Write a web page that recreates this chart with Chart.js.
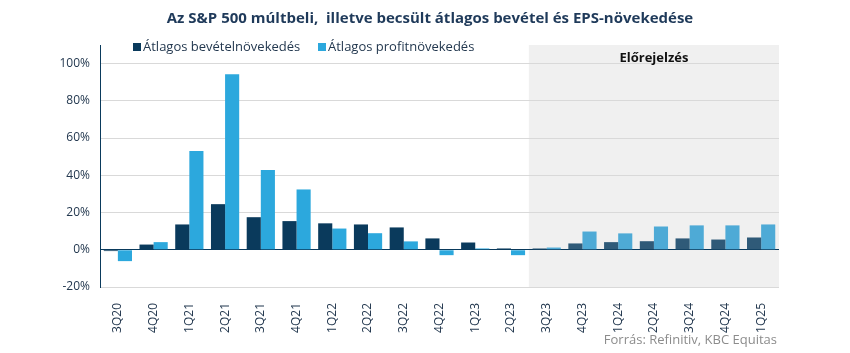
<!DOCTYPE html>
<html>
<head>
<meta charset="utf-8">
<script src="https://cdn.jsdelivr.net/npm/chart.js@4.4.1/dist/chart.umd.min.js"></script>
<style>
  html, body { margin:0; padding:0; background:#fff; }
  #wrap { width:850px; height:353px; position:relative; }
</style>
</head>
<body>
<div id="wrap"><canvas id="chart" width="850" height="353"></canvas></div>
<script>
/* ---------- Data ---------- */
const quarters = ['3Q20','4Q20','1Q21','2Q21','3Q21','4Q21','1Q22','2Q22','3Q22','4Q22',
                  '1Q23','2Q23','3Q23','4Q23','1Q24','2Q24','3Q24','4Q24','1Q25'];
const revenueGrowth = [-0.7, 2.8, 13.6, 24.5, 17.5, 15.4, 14.2, 13.6, 12.0, 6.1,
                       3.9, 0.7, 0.7, 3.4, 4.1, 4.6, 6.1, 5.5, 6.6];
const profitGrowth  = [-6.1, 4.1, 53.0, 94.3, 42.8, 32.4, 11.4, 8.9, 4.5, -2.9,
                       0.7, -2.9, 1.2, 9.8, 8.8, 12.5, 13.1, 13.1, 13.6];
const forecastFrom = 12;   // 3Q23 onwards
const yTicks = [-20, 0, 20, 40, 60, 80, 100];

const NAVY = '#0a3a5c', BLUE = '#2ca8dd';
const NAVY_F = '#2f5a78', BLUE_F = '#4eaad6';
const TXT = '#23384f';
const FONT = "'Open Sans', sans-serif";

/* ---------- Overlay: title, legend, forecast box, source ---------- */
const decor = {
  id:'decor',
  beforeDraw(c){
    const { ctx, chartArea:a, scales:{ x } } = c;
    const left = (x.getPixelForValue(forecastFrom) + x.getPixelForValue(forecastFrom - 1)) / 2;
    ctx.save();
    ctx.fillStyle = '#f0f0f0';
    ctx.fillRect(left, a.top, a.right - left, a.bottom - a.top);
    ctx.restore();
  },
  afterDraw(c){
    const { ctx, chartArea:a, scales:{ x } } = c;
    ctx.save();
    // title
    ctx.fillStyle = '#1f3a5a';
    ctx.font = `bold 15px ${FONT}`;
    ctx.textAlign = 'center';
    ctx.textBaseline = 'middle';
    ctx.fillText('Az S&P 500 múltbeli,  illetve becsült átlagos bevétel és EPS-növekedése', 430, 19);

    // legend
    ctx.font = `13px ${FONT}`;
    ctx.textAlign = 'left';
    ctx.fillStyle = NAVY;  ctx.fillRect(133, 43, 8, 8);
    ctx.fillStyle = TXT;   ctx.fillText('Átlagos bevételnövekedés', 143, 47);
    ctx.fillStyle = BLUE;  ctx.fillRect(318, 43, 8, 8);
    ctx.fillStyle = TXT;   ctx.fillText('Átlagos profitnövekedés', 328, 47);

    // forecast label
    const left = (x.getPixelForValue(forecastFrom) + x.getPixelForValue(forecastFrom - 1)) / 2;
    ctx.font = `bold 13px ${FONT}`;
    ctx.textAlign = 'center';
    ctx.fillStyle = '#111';
    ctx.fillText('Előrejelzés', (left + a.right) / 2, 58);

    // source
    ctx.font = `13px ${FONT}`;
    ctx.textAlign = 'right';
    ctx.fillStyle = '#8c8c8c';
    ctx.fillText('Forrás: Refinitiv, KBC Equitas', 777, 340);
    ctx.restore();
  }
};

const colorsFor = (base, fc) => quarters.map((_, i) => i >= forecastFrom ? fc : base);

new Chart(document.getElementById('chart'), {
  type:'bar',
  data:{
    labels:quarters,
    datasets:[
      { label:'Átlagos bevételnövekedés', data:revenueGrowth, backgroundColor:colorsFor(NAVY, NAVY_F) },
      { label:'Átlagos profitnövekedés', data:profitGrowth, backgroundColor:colorsFor(BLUE, BLUE_F) }
    ]
  },
  options:{
    responsive:false,
    animation:false,
    layout:{ padding:{ top:45, right:71, left:0, bottom:0 } },
    datasets:{ bar:{ categoryPercentage:0.79, barPercentage:1 } },
    plugins:{ legend:{ display:false }, title:{ display:false }, tooltip:{ enabled:false } },
    scales:{
      x:{
        grid:{ display:false },
        border:{ display:false },
        ticks:{ minRotation:90, maxRotation:90, autoSkip:false, padding:8,
                color:TXT, font:{ family:FONT, size:12 } },
        afterFit: s => { s.height = 66; }
      },
      y:{
        min:-20, max:110,
        afterBuildTicks: s => { s.ticks = yTicks.map(v => ({ value:v })); },
        grid:{ color: ctx => ctx.tick && ctx.tick.value === 0 ? NAVY : '#d9d9d9', drawTicks:false },
        border:{ display:true, color:NAVY },
        ticks:{ padding:10, color:TXT, font:{ family:FONT, size:12 }, callback: v => v + '%' },
        afterFit: s => { s.width = 100; }
      }
    }
  },
  plugins:[decor]
});
</script>
</body>
</html>
